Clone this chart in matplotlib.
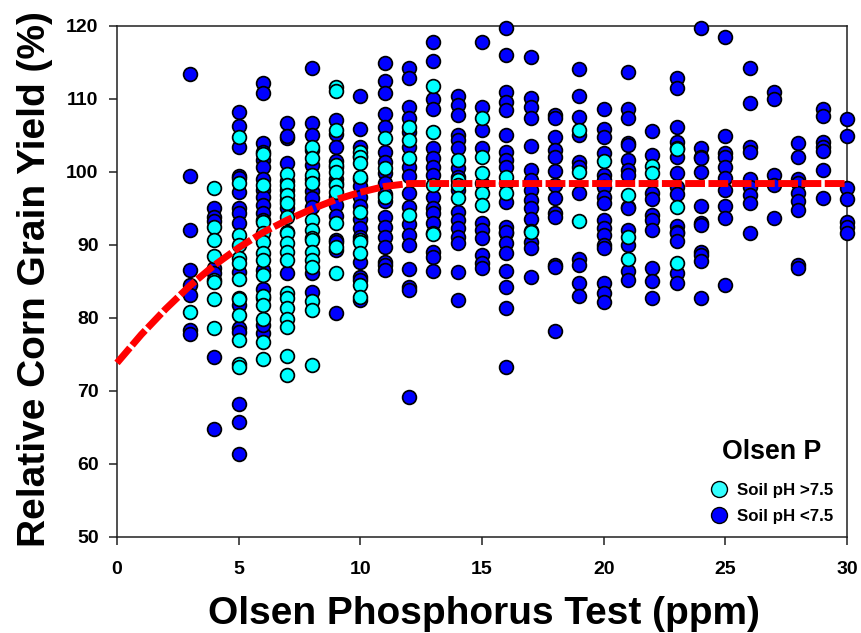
# Relative corn yield vs Olsen P test
import numpy as np
import matplotlib
matplotlib.use('Agg')
import matplotlib.pyplot as plt
from matplotlib.lines import Line2D

plt.rcParams['font.family'] = ['Liberation Sans', 'DejaVu Sans']
plt.rcParams['font.weight'] = 'bold'

########################################################
# Values, one row per test value
olsen_p = [3, 4, 5, 6, 7, 8, 9, 10, 11, 12, 13, 14, 15, 16, 17, 18, 19, 20,
           21, 22, 23, 24, 25, 26, 27, 28, 29, 30]

blue_yield = [
    [113.4, 99.5, 92, 86.5, 84.5, 83.1, 78.3, 77.7],
    [95, 93.8, 93.2, 86.8, 86.1, 74.6, 64.8],
    [108.2, 106.3, 103.4, 99.5, 99.1, 97.2, 95, 94.3, 93, 86.2, 82.7, 81.7, 78.6, 78, 68.1, 65.7, 61.3],
    [112.2, 110.8, 104, 102.7, 101.6, 100.7, 99, 97.5, 96.5, 95.5, 94.3, 93.4, 86.5, 84, 82.7, 77.9, 79],
    [106.7, 104.6, 104.9, 101.2, 98.8, 97.5, 96.2, 95, 86.1],
    [114.2, 106.7, 105, 103, 101, 99, 97.4, 96.4, 95.2, 86.1, 83.5],
    [107.1, 105.2, 103.4, 101.5, 100.6, 99, 98.5, 96.5, 95.5, 94, 90.6, 90.4, 89.3, 80.6],
    [110.4, 105.9, 103.4, 102.2, 99, 98, 96.6, 95.3, 93.5, 92.3, 91, 87.6, 85.6, 85.2, 82.4],
    [114.9, 112.4, 110.8, 108, 106.1, 102.7, 101.3, 99.8, 98.5, 97, 96, 93.8, 92.4, 91, 89.7, 87.6, 87.2, 86.5],
    [114.2, 112.9, 108.9, 107.4, 105.5, 103.4, 100.7, 99.5, 97.1, 95.2, 92.8, 91.3, 90, 86.7, 84.2, 83.8, 69.1],
    [117.8, 115.2, 110, 108.6, 103.3, 101.9, 100.7, 99.6, 96.5, 95, 94.3, 93, 89, 88.3, 86.4],
    [110.4, 109.2, 107.8, 105, 104.4, 103.3, 100.5, 99.3, 97.5, 94.5, 93.4, 92.3, 91, 90.2, 86.3, 82.4],
    [117.8, 108.9, 105.7, 103.3, 98.5, 93, 92, 90.9, 88.6, 87.5, 86.8],
    [119.7, 116, 111, 109.6, 108.5, 105, 102.7, 101.6, 100.7, 98.5, 95.9, 92.4, 91.6, 91.7, 90.2, 88.9, 86.4, 84.2, 81.3, 73.2],
    [115.7, 110.1, 108.9, 107.4, 103.5, 100.2, 98.9, 97.5, 96.1, 95, 93.6, 90.4, 89.6, 85.6],
    [107.8, 107.4, 104.8, 103, 102, 100.1, 98.2, 96.4, 94.3, 93.8, 87.2, 86.9, 78.2],
    [114.1, 110.4, 107.5, 105, 101.3, 100.7, 97.1, 88, 87.2, 84.7, 83],
    [108.6, 105.9, 104.8, 102.6, 99.6, 98.9, 97.9, 96.5, 95.7, 93.4, 92.3, 91.3, 90, 89.6, 84.7, 83.4, 82.2],
    [113.7, 108.6, 107.4, 104, 103.7, 101.6, 100.2, 99.6, 95.2, 95, 92, 90, 86.4, 85.2],
    [105.6, 102.3, 97.1, 96.3, 94.1, 93.4, 92, 86.8, 85, 82.7],
    [112.9, 111.5, 106.1, 104.1, 103.3, 102, 99.8, 97.9, 97, 92.6, 91.8, 91.6, 90.5, 86.1, 84.7],
    [119.7, 103.3, 102, 101.9, 100, 95.3, 93, 92.7, 89, 88.6, 87.8, 82.7],
    [118.5, 104.9, 102.6, 102, 100.7, 99.1, 97.5, 95.3, 93.7, 84.5],
    [114.2, 109.4, 103.4, 102.7, 99, 97.9, 96.8, 95.7, 91.6],
    [111, 110, 99.6, 98.2, 93.7],
    [104, 102, 99, 98.5, 97.1, 96, 94.8, 87.2, 86.8],
    [108.6, 107.7, 104.1, 103.4, 102.8, 100.3, 96.4],
    [107.2, 104.9, 97.8, 96.3, 93.1, 92.4, 91.6],
]

cyan_yield = [
    [80.8],
    [97.8, 92.5, 90.7, 88.4, 85.2, 84.9, 82.5, 78.6],
    [104.8, 98.5, 91.3, 90, 88.2, 87.5, 85.3, 82.5, 80.4, 77, 73.7, 73.2],
    [102.4, 98.2, 93.1, 91.6, 90.4, 88.9, 87.9, 85.8, 83, 81.7, 79.8, 76.7, 74.3],
    [99.7, 98.2, 96.8, 95.7, 93.8, 91.8, 91.6, 90.2, 89, 87.9, 83.4, 82.7, 81.3, 79.8, 78.7, 74.8, 72.1],
    [103.4, 101.9, 99.6, 98.5, 93.4, 92, 90.9, 90.6, 89, 87.9, 87, 82.3, 81, 73.5],
    [111.6, 111.1, 105.7, 101, 100, 98.2, 97.2, 93, 89.7, 86.1],
    [102.7, 102, 101.2, 99.3, 94.5, 90.6, 90.4, 88.9, 84.5, 82.8],
    [104.6, 100.5, 96.5],
    [106.1, 104.4, 101.9, 94.1],
    [111.8, 105.5, 98.2, 91.6, 91.5],
    [101.6, 98.9, 98.2, 96.4],
    [107.4, 102, 99.9, 97.1, 95.5],
    [99.3, 97.1],
    [91.9, 91.7],
    [],
    [105.7, 100, 93.2],
    [101.5],
    [96.8, 91, 88],
    [100.8, 99.8],
    [103.1, 95.2, 87.5],
    [],
    [],
    [],
    [],
    [],
    [],
    [],
]

curve_x = [0, 1, 2, 3, 4, 5, 6, 7, 8, 9, 10, 11, 12, 30]
curve_y = [73.8, 77.7, 81.2, 84.4, 87.2, 89.6, 91.7, 93.4, 94.9, 96.2, 97.2, 98, 98.4, 98.4]

x_ticks = [0, 5, 10, 15, 20, 25, 30]
y_ticks = [50, 60, 70, 80, 90, 100, 110, 120]

########################################################
# Flatten the columns into x, y pairs
blue_x = np.repeat(olsen_p, [len(v) for v in blue_yield])
blue_y = np.concatenate(blue_yield)
cyan_x = np.repeat(olsen_p, [len(v) for v in cyan_yield])
cyan_y = np.concatenate([np.array(v, dtype=float) for v in cyan_yield])

f, ax = plt.subplots(figsize=(8.62, 6.33), dpi=100)
f.subplots_adjust(left=117 / 862, right=847 / 862, top=1 - 26 / 633, bottom=1 - 536.5 / 633)

ax.plot(blue_x, blue_y, 'o', color='#0000ff', ms=9.9, mec='#000000', mew=1.25, clip_on=False, zorder=3)
ax.plot(cyan_x, cyan_y, 'o', color='#00ffff', ms=9.9, mec='#000000', mew=1.25, clip_on=False, zorder=4)
ax.plot(curve_x, curve_y, color='#ff0000', lw=5, dashes=(2.85, 0.5), dash_capstyle='butt',
        dash_joinstyle='miter', clip_on=False, zorder=5)

ax.set_xlim(0, 30)
ax.set_ylim(50, 120)
ax.set_xticks(x_ticks)
ax.set_yticks(y_ticks)
ax.tick_params(direction='out', length=5.8, width=1.1, color='#202020', labelsize=14)
ax.tick_params(axis='x', pad=11.5)
ax.tick_params(axis='y', pad=7.5)
for s in ax.spines.values():
    s.set_linewidth(1.1)
    s.set_color('#202020')

ax.set_xlabel('Olsen Phosphorus Test (ppm)', fontsize=28, fontweight='bold')
ax.set_ylabel('Relative Corn Grain Yield (%)', fontsize=28, fontweight='bold')
ax.xaxis.set_label_coords(0.503, -0.1166)
ax.yaxis.set_label_coords(-0.0878, 0.504)

# Legend
handles = [Line2D([], [], ls='none', marker='o', color='#33ffff', ms=11.5, mec='#000000', mew=1),
           Line2D([], [], ls='none', marker='o', color='#0000ff', ms=11.5, mec='#000000', mew=1)]
leg = ax.legend(handles, ['Soil pH >7.5', 'Soil pH <7.5'], frameon=False, loc='lower right',
                bbox_to_anchor=(833 / 862, 1 - 523.5 / 633), bbox_transform=f.transFigure,
                fontsize=12.2, title='Olsen P', handlelength=1.0, handletextpad=0.55,
                labelspacing=0.6, borderaxespad=0, borderpad=0,
                title_fontproperties={'size': 19.3, 'weight': 'bold'})
leg._legend_box.sep = 13

f.savefig('out.png', dpi=100)
